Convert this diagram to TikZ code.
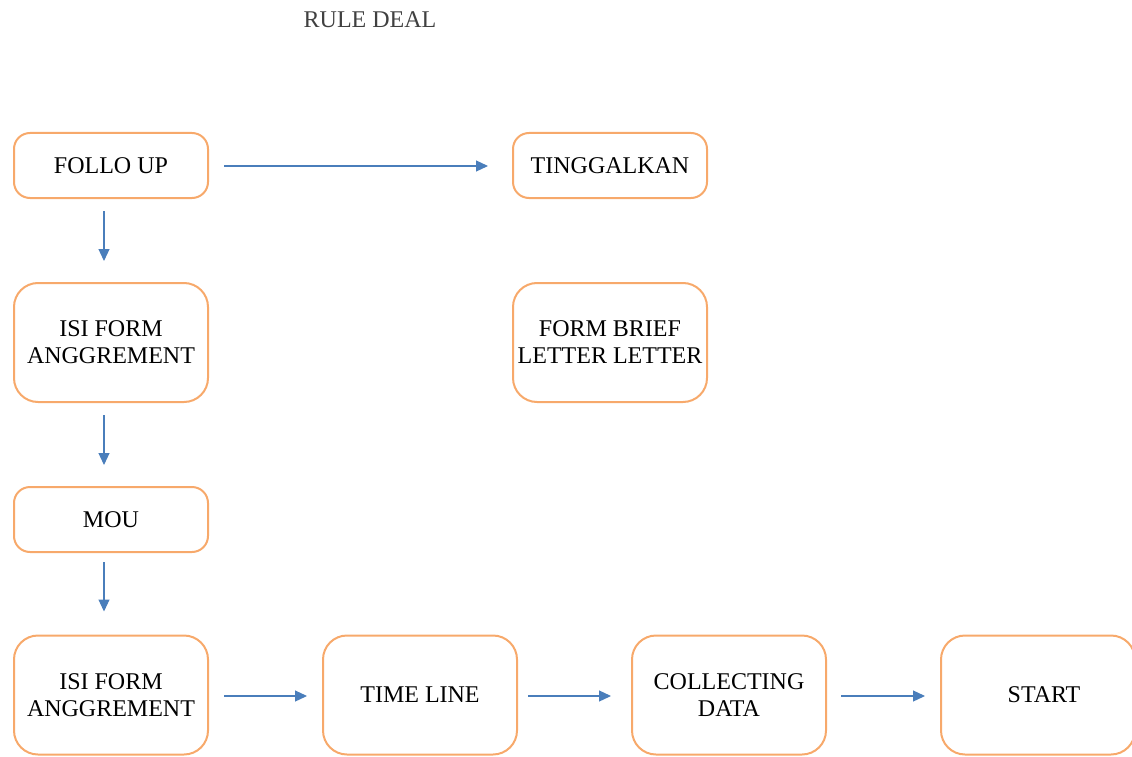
\documentclass[tikz,border=0pt]{standalone}
\usepackage{fontspec}
\setmainfont{Liberation Serif}
\usetikzlibrary{arrows.meta, positioning}

\definecolor{boxorange}{HTML}{F7A96B}
\definecolor{arrowblue}{HTML}{4A7EBB}
\definecolor{titlegray}{HTML}{404040}

\begin{document}
\begin{tikzpicture}[x=1pt, y=1pt,
    every node/.style = {font=\fontsize{24}{27}\selectfont},
    stage/.style = {draw=boxorange, line width=2pt, rounded corners=16pt,
        minimum width=194pt, minimum height=65pt, inner sep=0pt, align=center},
    tallstage/.style = {stage, minimum height=119pt, rounded corners=24pt},
    flow/.style = {color=arrowblue, line width=1.2pt,
        -{Triangle[length=12pt, width=11pt]}}]
    \useasboundingbox (0,0) rectangle (1132,-757);
    % \draw [help lines, step=50] (0,-757) grid (1132,0);
    \node (title) [text=titlegray] at (370,-20) {RULE DEAL};

    \node (fu) [stage] at (111,-165.5) {FOLLO UP};
    \node (ting) [stage] at (610,-165.5) {TINGGALKAN};
    \node (isia) [tallstage] at (111,-342.5) {ISI FORM\\ANGGREMENT};
    \node (brief) [tallstage] at (610,-342.5) {FORM BRIEF\\LETTER LETTER};
    \node (mou) [stage] at (111,-519.5) {MOU};
    \node (isib) [tallstage] at (111,-695) {ISI FORM\\ANGGREMENT};
    \node (tl) [tallstage] at (420,-695) {TIME LINE};
    \node (cd) [tallstage] at (729,-695) {COLLECTING\\DATA};
    \node (start) [tallstage] at (1038,-695) {\hspace*{12pt}START};

    \draw [flow, shorten <=15pt, shorten >=24pt]
        ([yshift=-0.5pt]fu.east) -- ([yshift=-0.5pt]ting.west);
    \draw [flow, shorten <=12pt, shorten >=21pt]
        ([xshift=-7pt]fu.south) -- ([xshift=-7pt]isia.north);
    \draw [flow, shorten <=12pt, shorten >=21pt]
        ([xshift=-7pt]isia.south) -- ([xshift=-7pt]mou.north);
    \draw [flow, shorten <=9pt, shorten >=23pt]
        ([xshift=-7pt]mou.south) -- ([xshift=-7pt]isib.north);
    \draw [flow, shorten <=15pt, shorten >=15pt]
        ([yshift=-1pt]isib.east) -- ([yshift=-1pt]tl.west);
    \draw [flow, shorten <=10pt, shorten >=20pt]
        ([yshift=-1pt]tl.east) -- ([yshift=-1pt]cd.west);
    \draw [flow, shorten <=14pt, shorten >=15pt]
        ([yshift=-1pt]cd.east) -- ([yshift=-1pt]start.west);
\end{tikzpicture}
\end{document}
